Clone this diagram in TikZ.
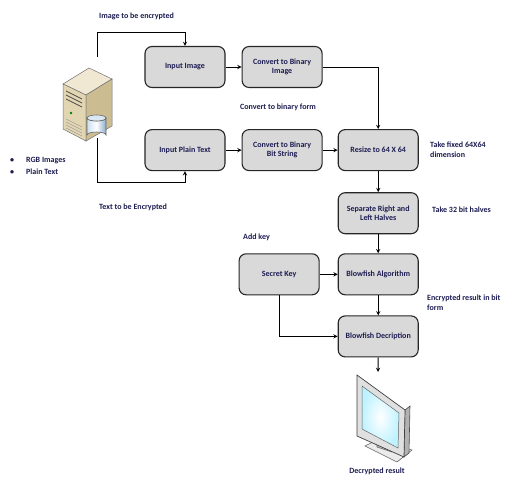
\documentclass[tikz,border=0pt]{standalone}
\usepackage{fontspec}
\setmainfont{Carlito}
\usetikzlibrary{arrows,positioning,calc}

\definecolor{boxgray}{RGB}{217,217,217}
\definecolor{labelnavy}{RGB}{28,28,82}
\definecolor{towerfront}{RGB}{226,214,178}
\definecolor{towerside}{RGB}{204,188,146}
\definecolor{towertop}{RGB}{240,232,210}
\definecolor{dbblue}{RGB}{150,190,225}

\begin{document}
\begin{tikzpicture}[
  x=1pt, y=-1pt,
  node distance=16pt,
  stage/.style={rectangle, draw=black!85, line width=1.1pt, fill=boxgray,
    rounded corners=7pt, minimum width=80pt, minimum height=41pt,
    align=center, text=labelnavy, font=\fontsize{8}{9.5}\selectfont\bfseries},
  note/.style={anchor=west, align=left, inner sep=0pt, text=labelnavy,
    font=\fontsize{8}{10}\selectfont\bfseries},
  arrow/.style={->, line width=0.9pt, >=stealth}
]
\useasboundingbox[fill=white] (0,0) rectangle (511,479);

% processing stages
\node[stage] (inimg) at (185,67) {Input Image};
\node[stage, right=of inimg] (convimg) {Convert to Binary\\Image};
\node[stage, below=41pt of inimg] (intext) {Input Plain Text};
\node[stage, right=of intext] (convtext) {Convert to Binary\\Bit String};
\node[stage, right=15pt of convtext] (resize) {Resize to 64 X 64};
\node[stage, below=21pt of resize] (split) {Separate Right and\\Left Halves};
\node[stage, below=19pt of split] (bfenc) {Blowfish Algorithm};
\node[stage, below=20pt of bfenc] (bfdec) {Blowfish Decription};
\node[stage, left=18pt of bfenc] (seckey) {Secret Key};

% server tower with its database
\draw[line width=0.5pt, draw=black!55, fill=towertop] (63,84) -- (89,68) -- (112,79) -- (86,95) -- cycle;
\draw[line width=0.5pt, draw=black!55, fill=towerfront] (63,84) -- (86,95) -- (86,141) -- (63,129) -- cycle;
\draw[line width=0.5pt, draw=black!55, fill=towerside] (86,95) -- (112,79) -- (112,126) -- (86,141) -- cycle;
\foreach \dy in {0,4,8} {
  \draw[line width=0.8pt, black!70] (66,91+\dy) -- (82,99+\dy);
}
\fill[green!50!black] (71,113) circle (1.4);
\foreach \dy in {0,3,6,9} {
  \draw[line width=0.4pt, black!45] (66,119+\dy) -- (82,127+\dy);
}
\draw[line width=0.6pt, draw=black!60, left color=dbblue!50, right color=dbblue!90!black, middle color=white]
  (87,118) -- (87,135) arc[start angle=180, end angle=360, x radius=9.5, y radius=3]
  -- (106,118) arc[start angle=0, end angle=180, x radius=9.5, y radius=3] -- cycle;
\draw[line width=0.6pt, draw=black!60, fill=dbblue!35] (96.5,118) ellipse[x radius=9.5, y radius=3];
\coordinate (srvtop) at (97,57);
\coordinate (dbbot) at (97,138);

% monitor for the output
\draw[line width=0.6pt, draw=black!60, fill=black!8] (365,446) -- (379,439) -- (412,450) -- (397,462) -- cycle;
\draw[line width=0.6pt, draw=black!60, fill=black!25] (377,435) -- (377,447) -- (392,452) -- (392,440) -- cycle;
\draw[line width=0.6pt, draw=black!70, fill=black!30] (405,410) -- (410,406) -- (409,453) -- (404,457) -- cycle;
\draw[line width=0.7pt, draw=black!75, fill=black!12] (357,375) -- (405,410) -- (404,457) -- (357,436) -- cycle;
\draw[line width=0.5pt, draw=black!60, inner color=white, outer color=blue!20!cyan!25] (362,386) -- (399,413) -- (398,448) -- (362,429) -- cycle;
\coordinate (screen) at (378,372);

% connectors
\draw[arrow] (srvtop) -- ++(0,-25) -| (inimg.north);
\draw[arrow] (dbbot) -- ++(0,44) -| (intext.south);
\draw[arrow] (inimg) -- (convimg);
\draw[arrow] (convimg.east) -| (resize.north);
\draw[arrow] (intext) -- (convtext);
\draw[arrow] (convtext) -- (resize);
\draw[arrow] (resize) -- (split);
\draw[arrow] (split) -- (bfenc);
\draw[arrow] (seckey) -- (bfenc);
\draw[arrow] (bfenc) -- (bfdec);
\draw[arrow] (seckey.south) |- (bfdec.west);
\draw[arrow] (bfdec.south) -- (screen);

% side notes
\node[note] (imgnote) at (99,16) {Image to be encrypted};
\node[note] (txtnote) at (99,207) {Text to be Encrypted};
\node[note] (binnote) at (240,107) {Convert to binary form};
\node[note] (dimnote) at (430,150) {Take fixed 64X64\\dimension};
\node[note] (halfnote) at (432,210) {Take 32 bit halves};
\node[note] (keynote) at (243,237) {Add key};
\node[note] (encnote) at (427,303) {Encrypted result in bit\\form};
\node[note, anchor=center] (decnote) at (377,471) {Decrypted result};
\node[note] (srcnote) at (10,166) {\textbullet\hspace{12pt}RGB Images\\[2pt]\textbullet\hspace{12pt}Plain Text};
\end{tikzpicture}
\end{document}
